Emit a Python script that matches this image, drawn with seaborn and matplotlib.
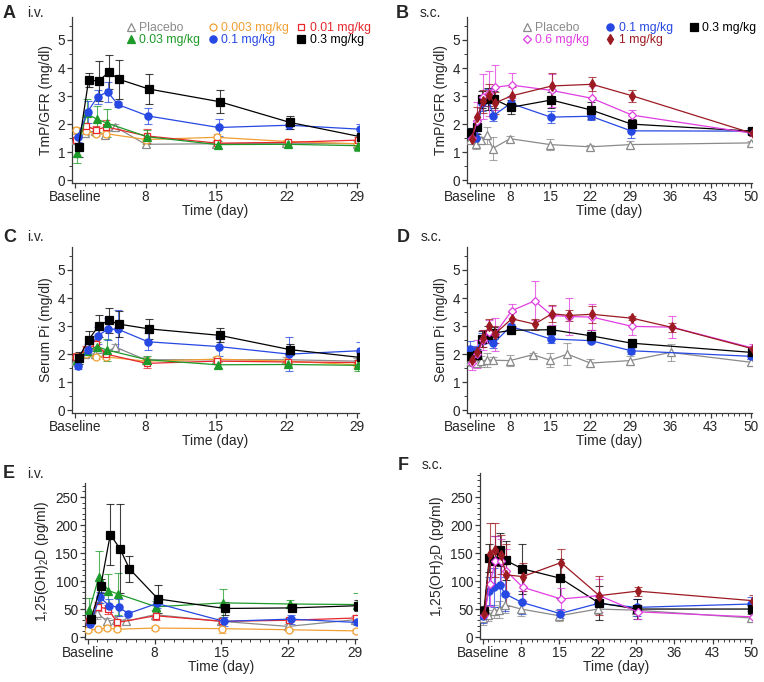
import matplotlib
matplotlib.use("Agg")
import matplotlib.pyplot as plt
from matplotlib.lines import Line2D
from matplotlib.ticker import MultipleLocator
import numpy as np
import pandas as pd
import seaborn as sns

sns.set_style("ticks")
plt.rcParams["font.family"] = ["Liberation Sans", "DejaVu Sans"]
plt.rcParams["mathtext.fontset"] = "custom"
plt.rcParams["mathtext.rm"] = "Liberation Sans"
plt.rcParams["mathtext.default"] = "regular"

# time points (day 1 = baseline)
iv_days = [1, 2, 3, 4, 5, 8, 15, 22, 29]
iv_days_no5 = [1, 2, 3, 4, 8, 15, 22, 29]
sc_days = [1, 2, 3, 4, 5, 8, 15, 22, 29, 50]
sc_days_long = [1, 2, 3, 4, 5, 8, 12, 15, 18, 22, 29, 36, 50]

# A: TmP/GFR, i.v.
a_pla = [1.42, 1.70, 1.75, 1.60, 1.90, 1.28, 1.30, 1.32, 1.30]
a_pla_se = [0.10, 0.10, 0.10, 0.10, 0.10, 0.08, 0.10, 0.05, 0.10]
a_003 = [1.78, 1.76, 1.66, 1.66, 1.45, 1.53, 1.38, 1.30]
a_003_se = [0.12, 0.10, 0.10, 0.10, 0.15, 0.12, 0.05, 0.15]
a_01 = [1.45, 1.92, 1.80, 1.90, 1.58, 1.32, 1.35, 1.43]
a_01_se = [0.10, 0.12, 0.15, 0.25, 0.25, 0.10, 0.05, 0.10]
a_03 = [0.98, 2.38, 2.18, 2.04, 1.55, 1.27, 1.28, 1.23]
a_03_se = [0.35, 0.50, 0.45, 0.50, 0.25, 0.12, 0.05, 0.18]
a_1 = [1.55, 2.44, 2.98, 3.15, 2.70, 2.29, 1.88, 1.96, 1.82]
a_1_se = [0.20, 0.40, 0.25, 0.35, 0.10, 0.30, 0.30, 0.15, 0.18]
a_3 = [1.19, 3.57, 3.54, 3.85, 3.60, 3.25, 2.80, 2.06, 1.55]
a_3_se = [0.35, 0.25, 0.70, 0.60, 0.70, 0.55, 0.42, 0.22, 0.15]

# B: TmP/GFR, s.c.
b_pla = [1.43, 1.30, 1.43, 1.60, 1.13, 1.48, 1.27, 1.19, 1.27, 1.33]
b_pla_se = [0.12, 0.20, 0.12, 0.30, 0.40, 0.10, 0.20, 0.08, 0.12, 0.08]
b_1 = [1.60, 1.50, 2.75, 2.95, 2.30, 2.74, 2.25, 2.28, 1.76, 1.75]
b_1_se = [0.25, 0.20, 0.30, 0.30, 0.20, 0.25, 0.20, 0.15, 0.25, 0.10]
b_3 = [1.70, 1.90, 2.89, 2.89, 2.89, 2.60, 2.86, 2.50, 2.00, 1.75]
b_3_se = [0.15, 0.25, 0.30, 0.40, 0.30, 0.25, 0.30, 0.30, 0.20, 0.08]
b_6 = [1.49, 2.10, 2.98, 3.10, 3.31, 3.39, 3.20, 2.92, 2.32, 1.67]
b_6_se = [0.15, 0.70, 0.80, 0.80, 0.80, 0.45, 0.60, 0.45, 0.20, 0.10]
b_10 = [1.47, 2.26, 2.81, 3.04, 2.75, 3.01, 3.36, 3.42, 3.01, 1.67]
b_10_se = [0.12, 0.35, 0.40, 0.40, 0.40, 0.30, 0.45, 0.25, 0.22, 0.08]

# C: serum Pi, i.v.
c_pla = [1.75, 2.00, 2.00, 2.05, 2.25, 1.80, 1.80, 1.80, 1.75]
c_pla_se = [0.10, 0.10, 0.10, 0.10, 0.10, 0.10, 0.10, 0.10, 0.10]
c_003 = [1.90, 2.00, 1.90, 1.90, 1.75, 1.82, 1.75, 1.62]
c_003_se = [0.10, 0.10, 0.08, 0.08, 0.10, 0.12, 0.05, 0.10]
c_01 = [1.90, 2.15, 2.35, 2.00, 1.67, 1.75, 1.72, 1.70]
c_01_se = [0.15, 0.15, 0.15, 0.12, 0.15, 0.10, 0.05, 0.10]
c_03 = [1.80, 2.10, 2.27, 2.15, 1.80, 1.62, 1.63, 1.60]
c_03_se = [0.10, 0.15, 0.15, 0.40, 0.15, 0.10, 0.05, 0.20]
c_1 = [1.56, 2.16, 2.65, 2.89, 2.89, 2.44, 2.27, 2.00, 2.12]
c_1_se = [0.10, 0.20, 0.30, 0.40, 0.70, 0.30, 0.35, 0.60, 0.30]
c_3 = [1.86, 2.51, 3.01, 3.20, 3.07, 2.90, 2.67, 2.16, 1.88]
c_3_se = [0.20, 0.30, 0.40, 0.45, 0.45, 0.35, 0.25, 0.20, 0.35]

# D: serum Pi, s.c.
d_pla = [1.74, 1.68, 1.74, 1.80, 1.78, 1.77, 1.98, 1.78, 2.00, 1.68, 1.77, 2.06, 1.71]
d_pla_se = [0.15, 0.15, 0.20, 0.25, 0.10, 0.20, 0.05, 0.25, 0.40, 0.15, 0.15, 0.30, 0.10]
d_1 = [2.18, 2.10, 2.55, 2.60, 2.38, 2.99, 2.54, 2.48, 2.12, 1.92]
d_1_se = [0.30, 0.20, 0.20, 0.20, 0.15, 0.10, 0.15, 0.10, 0.10, 0.10]
d_3 = [1.92, 1.98, 2.54, 2.69, 2.75, 2.85, 2.87, 2.65, 2.39, 2.06]
d_3_se = [0.20, 0.20, 0.30, 0.30, 0.20, 0.15, 0.15, 0.20, 0.10, 0.10]
d_6 = [1.70, 2.00, 2.50, 2.80, 2.70, 3.55, 3.90, 3.38, 3.34, 3.32, 2.99, 2.96, 2.22]
d_6_se = [0.25, 0.50, 0.35, 0.40, 0.60, 0.25, 0.70, 0.35, 0.65, 0.45, 0.30, 0.40, 0.15]
d_10 = [1.80, 2.06, 2.57, 2.99, 2.71, 3.26, 3.07, 3.44, 3.38, 3.42, 3.28, 2.95, 2.19]
d_10_se = [0.15, 0.20, 0.30, 0.25, 0.30, 0.25, 0.20, 0.30, 0.20, 0.30, 0.08, 0.15, 0.10]

# E: 1,25(OH)2D, i.v.
e_pla = [34, 43, 28, 31, 28, 40, 28, 19, 31]
e_pla_se = [8, 10, 6, 6, 5, 8, 6, 4, 6]
e_003 = [12, 14, 16, 14, 16, 15, 13, 11]
e_003_se = [3, 3, 3, 3, 3, 8, 2, 3]
e_01 = [28, 54, 50, 26, 38, 28, 30, 34]
e_01_se = [6, 8, 8, 6, 8, 5, 4, 6]
e_03 = [48, 107, 83, 77, 54, 61, 59, 58]
e_03_se = [22, 47, 30, 38, 10, 25, 8, 20]
e_1 = [23, 71, 56, 53, 42, 60, 28, 32, 26]
e_1_se = [8, 10, 12, 15, 5, 8, 8, 8, 5]
e_3 = [33, 91, 183, 158, 122, 68, 51, 52, 56]
e_3_se = [10, 12, 55, 80, 23, 25, 12, 5, 10]

# F: 1,25(OH)2D, s.c.
f_pla = [34, 39, 46, 49, 58, 50, 38, 50, 48, 34]
f_pla_se = [12, 10, 12, 15, 15, 12, 10, 8, 10, 8]
f_1 = [37, 83, 89, 93, 77, 62, 42, 60, 53, 59]
f_1_se = [12, 25, 35, 40, 30, 20, 8, 15, 15, 12]
f_3 = [46, 141, 135, 156, 137, 122, 105, 61, 50, 50]
f_3_se = [10, 25, 45, 30, 35, 45, 35, 30, 18, 8]
f_6 = [39, 95, 135, 135, 118, 89, 68, 74, 45, 36]
f_6_se = [10, 40, 45, 40, 40, 25, 20, 30, 12, 8]
f_10 = [42, 148, 156, 147, 111, 108, 133, 74, 82, 65]
f_10_se = [8, 55, 48, 35, 55, 25, 25, 35, 8, 10]

# label: (color, marker, open, markersize, x nudge in days)
styles = {
    "Placebo": ("#8a8a8a", "^", True, 5.5, 0.0),
    "0.003 mg/kg": ("#f0a033", "o", True, 5.0, 0.05),
    "0.01 mg/kg": ("#e8262c", "s", True, 4.8, 0.1),
    "0.03 mg/kg": ("#1d9a29", "^", False, 5.5, 0.15),
    "0.1 mg/kg": ("#2648e3", "o", False, 5.2, 0.25),
    "0.3 mg/kg": ("#000000", "s", False, 5.2, 0.35),
    "0.6 mg/kg": ("#e03ee0", "D", True, 4.2, 0.3),
    "1 mg/kg": ("#9c1a22", "d", False, 5.5, 0.3),
}
sc_nudge = {"Placebo": 0.0, "0.1 mg/kg": 0.1, "0.3 mg/kg": 0.2, "0.6 mg/kg": 0.3, "1 mg/kg": 0.3}


def make_frame(series):
    rows = []
    for label, days, vals, errs in series:
        for d, v, e in zip(days, vals, errs):
            rows.append({"group": label, "day": d, "value": v, "sem": e})
    return pd.DataFrame(rows)


panels = [
    ("A", "i.v.", "TmP/GFR (mg/dl)", make_frame([
        ("Placebo", iv_days, a_pla, a_pla_se),
        ("0.003 mg/kg", iv_days_no5, a_003, a_003_se),
        ("0.01 mg/kg", iv_days_no5, a_01, a_01_se),
        ("0.03 mg/kg", iv_days_no5, a_03, a_03_se),
        ("0.1 mg/kg", iv_days, a_1, a_1_se),
        ("0.3 mg/kg", iv_days, a_3, a_3_se)])),
    ("B", "s.c.", "TmP/GFR (mg/dl)", make_frame([
        ("Placebo", sc_days, b_pla, b_pla_se),
        ("0.1 mg/kg", sc_days, b_1, b_1_se),
        ("0.3 mg/kg", sc_days, b_3, b_3_se),
        ("0.6 mg/kg", sc_days, b_6, b_6_se),
        ("1 mg/kg", sc_days, b_10, b_10_se)])),
    ("C", "i.v.", "Serum Pi (mg/dl)", make_frame([
        ("Placebo", iv_days, c_pla, c_pla_se),
        ("0.003 mg/kg", iv_days_no5, c_003, c_003_se),
        ("0.01 mg/kg", iv_days_no5, c_01, c_01_se),
        ("0.03 mg/kg", iv_days_no5, c_03, c_03_se),
        ("0.1 mg/kg", iv_days, c_1, c_1_se),
        ("0.3 mg/kg", iv_days, c_3, c_3_se)])),
    ("D", "s.c.", "Serum Pi (mg/dl)", make_frame([
        ("Placebo", sc_days_long, d_pla, d_pla_se),
        ("0.1 mg/kg", sc_days, d_1, d_1_se),
        ("0.3 mg/kg", sc_days, d_3, d_3_se),
        ("0.6 mg/kg", sc_days_long, d_6, d_6_se),
        ("1 mg/kg", sc_days_long, d_10, d_10_se)])),
    ("E", "i.v.", "1,25(OH)$_2$D (pg/ml)", make_frame([
        ("Placebo", iv_days, e_pla, e_pla_se),
        ("0.003 mg/kg", iv_days_no5, e_003, e_003_se),
        ("0.01 mg/kg", iv_days_no5, e_01, e_01_se),
        ("0.03 mg/kg", iv_days_no5, e_03, e_03_se),
        ("0.1 mg/kg", iv_days, e_1, e_1_se),
        ("0.3 mg/kg", iv_days, e_3, e_3_se)])),
    ("F", "s.c.", "1,25(OH)$_2$D (pg/ml)", make_frame([
        ("Placebo", sc_days, f_pla, f_pla_se),
        ("0.1 mg/kg", sc_days, f_1, f_1_se),
        ("0.3 mg/kg", sc_days, f_3, f_3_se),
        ("0.6 mg/kg", sc_days, f_6, f_6_se),
        ("1 mg/kg", sc_days, f_10, f_10_se)])),
]

W, H = 764, 682
# axes boxes in pixels: left, top, right, bottom
boxes = {
    "A": (72, 17, 359, 183), "B": (467, 17, 752, 183),
    "C": (72, 247, 359, 413), "D": (467, 247, 752, 413),
    "E": (85, 483, 357, 639), "F": (480, 473, 752, 639),
}
letter_pos = {"A": (3, 13), "B": (396, 13), "C": (3, 237), "D": (397, 237),
              "E": (3, 474), "F": (398, 465)}

fig = plt.figure(figsize=(W / 100, H / 100), dpi=100)
spine_col = "#3a3a3a"

for letter, route, ylabel, df in panels:
    l, t, r, b = boxes[letter]
    ax = fig.add_axes([l / W, 1 - b / H, (r - l) / W, (b - t) / H])
    iv = route == "i.v."
    for label, sub in df.groupby("group", sort=False):
        color, marker, hollow, ms, nudge = styles[label]
        if not iv:
            nudge = sc_nudge[label]
        x = sub["day"] + nudge
        ax.errorbar(x, sub["value"], yerr=sub["sem"], fmt="none", ecolor=color,
                    elinewidth=0.8, capsize=2.6, capthick=0.8, alpha=0.75, zorder=2)
        sns.lineplot(x=x, y=sub["value"], ax=ax, color=color, lw=0.9,
                     marker=marker, markersize=ms, markeredgecolor=color,
                     markeredgewidth=0.9,
                     markerfacecolor="white" if hollow else color,
                     zorder=3, sort=False)

    if iv:
        ax.set_xlim(0.7, 29.2)
        ax.set_xticks([1, 8, 15, 22, 29], ["Baseline", "8", "15", "22", "29"])
    else:
        ax.set_xlim(0.5, 50.2)
        ax.set_xticks([1, 8, 15, 22, 29, 36, 43, 50],
                      ["Baseline", "8", "15", "22", "29", "36", "43", "50"])
    ax.xaxis.set_minor_locator(MultipleLocator(1))

    if letter in "ABCD":
        ax.set_ylim(-0.1, 5.82)
        ax.set_yticks(range(6))
        ax.yaxis.set_minor_locator(MultipleLocator(0.5))
    else:
        top = 275 if letter == "E" else 293
        ax.set_ylim(-3.5, top)
        ax.set_yticks(range(0, 251, 50))
        ax.yaxis.set_minor_locator(MultipleLocator(10))

    sns.despine(ax=ax)
    for s in ("left", "bottom"):
        ax.spines[s].set_color(spine_col)
        ax.spines[s].set_linewidth(0.9)
    ax.tick_params(which="major", length=3.5, width=0.9, color=spine_col,
                   labelsize=9.8, pad=1.5)
    ax.tick_params(which="minor", length=2, width=0.7, color=spine_col)
    ax.set_xlabel("Time (day)", fontsize=10, labelpad=0)
    ax.set_ylabel(ylabel, fontsize=10, labelpad=3)

    lx, ly = letter_pos[letter]
    fig.text(lx / W, 1 - ly / H, letter, fontsize=13, fontweight="bold", va="center")
    fig.text((lx + 24) / W, 1 - ly / H, route, fontsize=10, va="center")

    if letter in "AB":
        if letter == "A":
            order = ["Placebo", "0.03 mg/kg", "0.003 mg/kg", "0.1 mg/kg",
                     "0.01 mg/kg", "0.3 mg/kg"]
            anchor, spacing = (126, 22), 0.6
        else:
            order = ["Placebo", "0.6 mg/kg", "0.1 mg/kg", "1 mg/kg", "0.3 mg/kg"]
            anchor, spacing = (522, 22), 1.3
        handles = []
        for lab in order:
            color, marker, hollow, ms, _ = styles[lab]
            handles.append(Line2D([], [], ls="none", marker=marker, markersize=ms,
                                  markeredgecolor=color, markeredgewidth=0.9,
                                  markerfacecolor="white" if hollow else color))
        leg = ax.legend(handles, order, ncol=3, loc="upper left",
                        bbox_to_anchor=(anchor[0] / W, 1 - anchor[1] / H),
                        bbox_transform=fig.transFigure, frameon=False,
                        fontsize=8.8, handlelength=0.8, handletextpad=0.3,
                        columnspacing=spacing, labelspacing=0.0, borderpad=0,
                        borderaxespad=0)
        for txt, lab in zip(leg.get_texts(), order):
            txt.set_color(styles[lab][0])

fig.savefig("out.png", dpi=100)
